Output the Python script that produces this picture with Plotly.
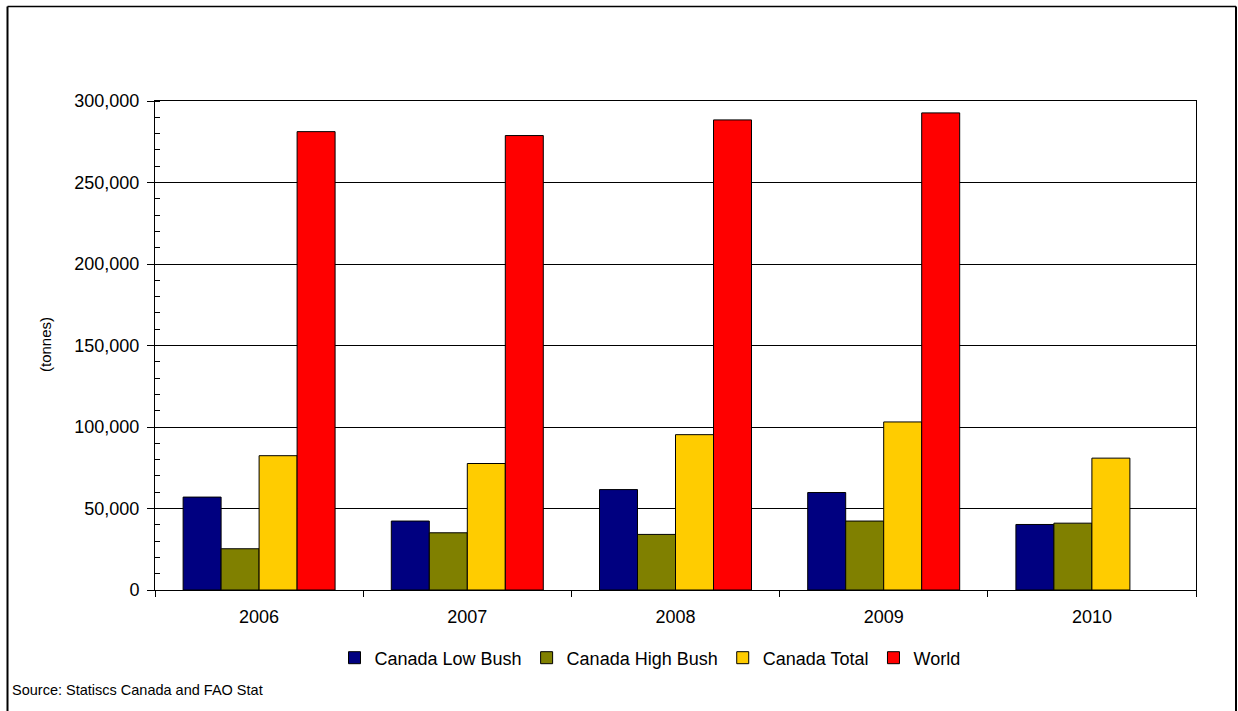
import plotly.graph_objects as go

years = ["2006", "2007", "2008", "2009", "2010"]
low_bush = [57000, 42300, 61600, 59800, 40200]
high_bush = [25300, 35100, 34100, 42300, 41000]
canada_total = [82400, 77600, 95300, 103100, 80900]
world = [281200, 278800, 288400, 292700, None]

series_names = ["Canada Low Bush", "Canada High Bush", "Canada Total", "World"]
series_values = [low_bush, high_bush, canada_total, world]
colors = ["#000080", "#808000", "#FFCC00", "#FF0000"]

y_tickvals = [0, 50000, 100000, 150000, 200000, 250000, 300000]
y_ticktext = ["0", "50,000", "100,000", "150,000", "200,000", "250,000", "300,000"]

W, H = 1238, 711
L, R, T, B = 155, 1196, 101, 590
pw, ph = R - L, B - T

def px(x):
    return (x - L) / pw

def py(y):
    return (B - y) / ph

fig = go.Figure()
for name, vals, col in zip(series_names, series_values, colors):
    fig.add_trace(go.Bar(
        x=years, y=vals, name=name,
        marker=dict(color=col, line=dict(color="#000000", width=1)),
    ))

font_family = "Liberation Sans, Arial, sans-serif"

fig.update_layout(
    width=W, height=H,
    margin=dict(l=L, r=W - R, t=T, b=H - B, autoexpand=False),
    paper_bgcolor="white", plot_bgcolor="white",
    barmode="group", bargap=0.27, bargroupgap=0,
    font=dict(family=font_family, color="#000000"),
    showlegend=True,
    legend=dict(
        orientation="h", x=px(650), xanchor="center", y=py(658), yanchor="middle",
        font=dict(size=18, family=font_family), itemwidth=30, tracegroupgap=0,
        bgcolor="rgba(0,0,0,0)",
    ),
    xaxis=dict(
        type="category", showline=True, linecolor="#000000", linewidth=1, mirror=True,
        ticks="outside", tickson="boundaries", ticklen=6, tickcolor="#000000",
        showgrid=False, tickfont=dict(size=18), ticklabelstandoff=10, fixedrange=True,
    ),
    yaxis=dict(
        range=[0, 300000], showline=True, linecolor="#000000", linewidth=1, mirror=True,
        tickvals=y_tickvals, ticktext=y_ticktext, ticks="outside", ticklen=7,
        tickcolor="#000000", tickfont=dict(size=18), ticklabelstandoff=4,
        showgrid=True, gridcolor="#000000", gridwidth=1, zeroline=False,
        minor=dict(dtick=10000, tick0=0, ticks="inside", ticklen=5, tickcolor="#000000", showgrid=False),
        fixedrange=True,
    ),
    annotations=[
        dict(text="(tonnes)", x=px(45), y=py(345), xref="paper", yref="paper",
             textangle=-90, showarrow=False, font=dict(size=15), xanchor="center", yanchor="middle"),
        dict(text="Source: Statiscs Canada and FAO Stat", x=px(10), y=py(690), xref="paper", yref="paper",
             showarrow=False, font=dict(size=14.5), xanchor="left", yanchor="middle"),
    ],
    shapes=[
        dict(type="line", xref="paper", yref="paper", x0=px(7.5), x1=px(7.5), y0=py(6.5), y1=py(730),
             line=dict(color="#000000", width=2)),
        dict(type="line", xref="paper", yref="paper", x0=px(7.5), x1=px(1236), y0=py(6.5), y1=py(6.5),
             line=dict(color="#000000", width=1.5)),
        dict(type="line", xref="paper", yref="paper", x0=px(1236), x1=px(1236), y0=py(6.5), y1=py(730),
             line=dict(color="#000000", width=2)),
    ],
)

fig.write_html(
    "out.html",
    config={"displayModeBar": False},
    post_script="document.body.style.margin='0';document.body.style.overflow='hidden';",
)
